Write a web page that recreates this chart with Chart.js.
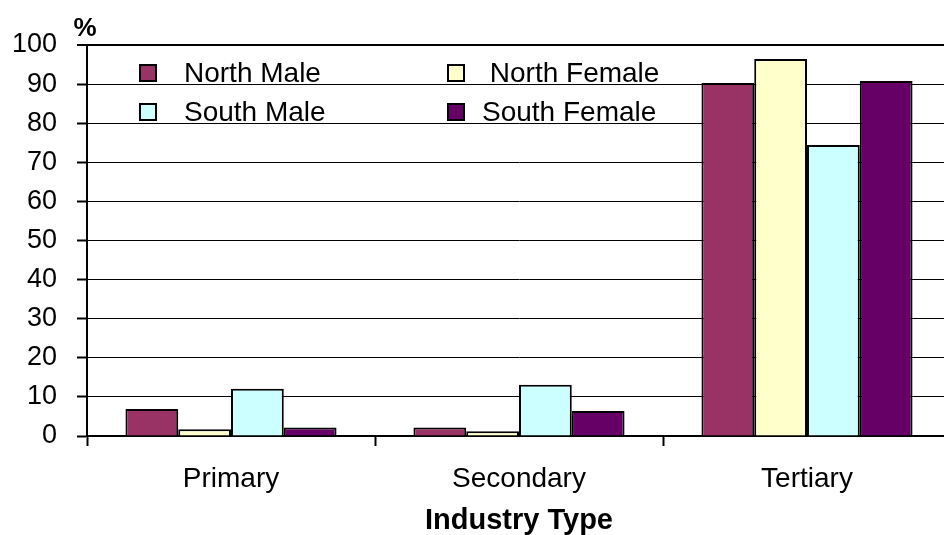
<!DOCTYPE html>
<html>
<head>
<meta charset="utf-8">
<script src="https://cdn.jsdelivr.net/npm/chart.js@4/dist/chart.umd.min.js"></script>
<style>
  html, body { margin: 0; padding: 0; background: #fff; overflow: hidden; }
  #wrap { width: 960px; height: 535px; }
</style>
</head>
<body>
<div id="wrap"><canvas id="c" width="960" height="535"></canvas></div>
<script>
// Employment share by industry type (%)
const categories = ['Primary', 'Secondary', 'Tertiary'];
const seriesNames = ['North Male', ' North Female', 'South Male', 'South Female'];
const northMale = [6.9, 2.2, 90.3];
const northFemale = [1.7, 1.2, 96.4];
const southMale = [12.1, 13.1, 74.4];
const southFemale = [2.2, 6.4, 90.8];
const yTicks = [0, 10, 20, 30, 40, 50, 60, 70, 80, 90, 100];

const FONT = "'Liberation Sans', Arial, sans-serif";
const colors = ['#993366', '#FFFFCC', '#CCFFFF', '#660066'];
const values = [northMale, northFemale, southMale, southFemale];

// Two-column legend drawn inside the plot area
const boxLegend = {
  id: 'boxLegend',
  afterDraw(chart, args, opts) {
    const { ctx, chartArea } = chart;
    ctx.save();
    ctx.font = opts.fontSize + 'px ' + FONT;
    ctx.textBaseline = 'middle';
    ctx.textAlign = 'left';
    chart.data.datasets.forEach((ds, i) => {
      const col = opts.order[i][0], row = opts.order[i][1];
      const bx = chartArea.left + opts.boxX[col];
      const tx = chartArea.left + opts.textX[col];
      const cy = chartArea.top + opts.rowY[row];
      const s = opts.boxSize;
      ctx.fillStyle = ds.backgroundColor;
      ctx.fillRect(bx, cy - s / 2, s, s);
      ctx.lineWidth = 2;
      ctx.strokeStyle = '#000';
      ctx.strokeRect(bx, cy - s / 2, s, s);
      ctx.fillStyle = '#000';
      ctx.fillText(ds.label, tx, cy + 1);
    });
    ctx.restore();
  }
};

// "%" unit label above the value axis
const unitLabel = {
  id: 'unitLabel',
  afterDraw(chart) {
    const { ctx, chartArea } = chart;
    ctx.save();
    ctx.font = 'bold 26px ' + FONT;
    ctx.fillStyle = '#000';
    ctx.textAlign = 'center';
    ctx.textBaseline = 'alphabetic';
    ctx.fillText('%', chartArea.left - 2, chartArea.top - 9);
    ctx.restore();
  }
};

new Chart(document.getElementById('c'), {
  type: 'bar',
  data: {
    labels: categories,
    datasets: values.map((v, i) => ({
      label: seriesNames[i],
      data: v,
      backgroundColor: colors[i],
      borderColor: '#000',
      borderWidth: 2,
      categoryPercentage: 0.733,
      barPercentage: 1.0
    }))
  },
  options: {
    responsive: false,
    animation: false,
    devicePixelRatio: 1,
    layout: { padding: { top: 45, right: 9, left: 0, bottom: 0 } },
    plugins: {
      legend: { display: false },
      tooltip: { enabled: false },
      boxLegend: {
        fontSize: 28,
        boxSize: 16,
        boxX: [53, 361],
        textX: [97, 395],
        rowY: [28, 67],
        order: [[0, 0], [1, 0], [0, 1], [1, 1]]
      }
    },
    scales: {
      x: {
        grid: {
          display: true,
          drawOnChartArea: false,
          offset: true,
          tickLength: 10,
          tickWidth: 2,
          tickColor: '#000'
        },
        border: { display: true, color: '#000', width: 2 },
        ticks: {
          color: '#000',
          font: { family: FONT, size: 28 },
          padding: 16,
          maxRotation: 0
        },
        title: {
          display: true,
          text: 'Industry Type',
          color: '#000',
          font: { family: FONT, size: 29, weight: 'bold', lineHeight: 1 },
          padding: { top: 0, bottom: 0 }
        },
        afterFit(scale) { scale.height = 99; }
      },
      y: {
        min: 0,
        max: 100,
        afterBuildTicks(scale) { scale.ticks = yTicks.map(v => ({ value: v })); },
        grid: {
          color: '#000',
          lineWidth: (c) => (c.tick && c.tick.value === 100 ? 2 : 1),
          tickLength: 10,
          tickWidth: 2,
          tickColor: '#000'
        },
        border: { display: true, color: '#000', width: 2 },
        ticks: {
          color: '#000',
          font: { family: FONT, size: 27 },
          padding: 20
        },
        afterFit(scale) { scale.width = 87; }
      }
    }
  },
  plugins: [boxLegend, unitLabel]
});
</script>
</body>
</html>
